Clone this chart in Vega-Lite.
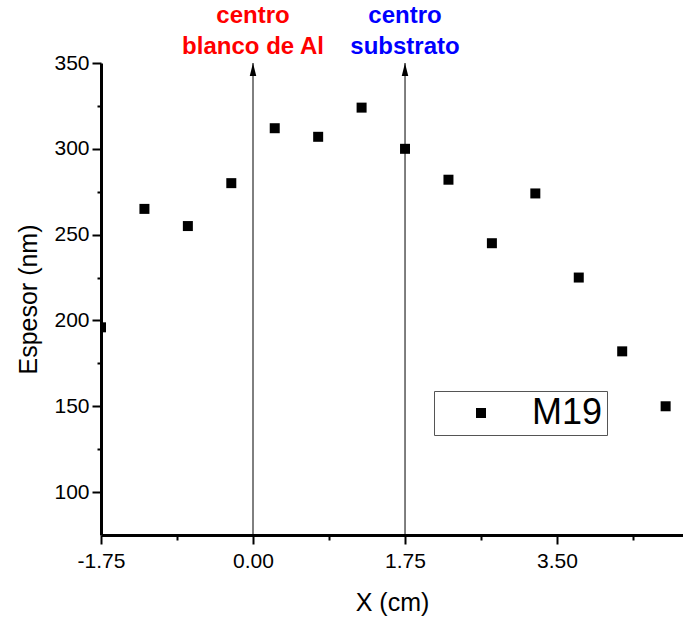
{
  "$schema": "https://vega.github.io/schema/vega-lite/v6.json",
  "width": 582,
  "height": 472,
  "autosize": {"type": "none"},
  "padding": {"left": 101, "top": 63, "right": 0, "bottom": 84},
  "background": "white",
  "config": {
    "view": {"stroke": null},
    "font": "Liberation Sans",
    "axis": {
      "grid": false,
      "domainColor": "black",
      "domainWidth": 3,
      "tickColor": "black",
      "tickWidth": 2,
      "labelColor": "black",
      "labelFont": "Liberation Sans",
      "labelFontSize": 21,
      "titleFont": "Liberation Sans",
      "titleFontSize": 25,
      "titleFontWeight": "normal",
      "titleColor": "black"
    }
  },
  "datasets": {
    "m19": [
      {"x": -1.75, "espesor": 196, "serie": "M19"},
      {"x": -1.25, "espesor": 265, "serie": "M19"},
      {"x": -0.75, "espesor": 255, "serie": "M19"},
      {"x": -0.25, "espesor": 280, "serie": "M19"},
      {"x": 0.25, "espesor": 312, "serie": "M19"},
      {"x": 0.75, "espesor": 307, "serie": "M19"},
      {"x": 1.25, "espesor": 324, "serie": "M19"},
      {"x": 1.75, "espesor": 300, "serie": "M19"},
      {"x": 2.25, "espesor": 282, "serie": "M19"},
      {"x": 2.75, "espesor": 245, "serie": "M19"},
      {"x": 3.25, "espesor": 274, "serie": "M19"},
      {"x": 3.75, "espesor": 225, "serie": "M19"},
      {"x": 4.25, "espesor": 182, "serie": "M19"},
      {"x": 4.75, "espesor": 150, "serie": "M19"}
    ],
    "marcas": [
      {"x": 0, "linea1": "centro", "linea2": "blanco de Al", "grupo": "blanco"},
      {"x": 1.75, "linea1": "centro", "linea2": "substrato", "grupo": "substrato"}
    ]
  },
  "encoding": {
    "x": {
      "field": "x",
      "type": "quantitative",
      "scale": {"domain": [-1.75, 4.95], "nice": false, "zero": false},
      "axis": {
        "title": "X (cm)",
        "values": [-1.75, -0.875, 0, 0.875, 1.75, 2.625, 3.5, 4.375],
        "labelExpr": "abs(datum.value/1.75 - round(datum.value/1.75)) < 0.01 ? replace(format(datum.value, '.2f'), '\u2212', '-') : ''",
        "tickSize": {"condition": {"test": "abs(datum.value/1.75 - round(datum.value/1.75)) < 0.01", "value": 9}, "value": 5},
        "labelPadding": 6,
        "titlePadding": 19,
        "labelFlush": false,
        "labelOverlap": false
      }
    }
  },
  "layer": [
    {
      "data": {"name": "m19"},
      "mark": {"type": "point", "filled": true, "color": "black", "opacity": 1, "size": 100, "clip": true},
      "encoding": {
        "y": {
          "field": "espesor",
          "type": "quantitative",
          "scale": {"domain": [75, 350], "nice": false, "zero": false},
          "axis": {
            "title": "Espesor (nm)",
            "values": [100, 125, 150, 175, 200, 225, 250, 275, 300, 325, 350],
            "labelExpr": "datum.value % 50 === 0 ? datum.label : ''",
            "tickSize": {"condition": {"test": "datum.value % 50 === 0", "value": 9}, "value": 4},
            "labelPadding": 3,
            "titlePadding": 12
          }
        },
        "shape": {
          "field": "serie",
          "type": "nominal",
          "scale": {"range": ["square"]},
          "legend": {
            "title": null,
            "orient": "none",
            "legendX": 333,
            "legendY": 328,
            "strokeColor": "#555555",
            "fillColor": "white",
            "padding": 4,
            "labelFontSize": 36,
            "labelFont": "Liberation Sans",
            "labelColor": "black",
            "symbolSize": 100,
            "symbolType": "square",
            "symbolFillColor": "black",
            "symbolStrokeColor": "black",
            "symbolOffset": 25,
            "labelOffset": 33
          }
        }
      }
    },
    {
      "data": {"name": "marcas"},
      "mark": {"type": "rule", "color": "black", "strokeWidth": 1},
      "encoding": {
        "y": {"datum": 75, "type": "quantitative"},
        "y2": {"datum": 350}
      }
    },
    {
      "data": {"name": "marcas"},
      "mark": {"type": "point", "shape": "M0,-1L-0.5,1L0.5,1Z", "size": 169, "filled": true, "color": "black", "opacity": 1, "yOffset": 6.5, "clip": false},
      "encoding": {
        "y": {"datum": 350, "type": "quantitative"}
      }
    },
    {
      "data": {"name": "marcas"},
      "mark": {"type": "text", "fontSize": 24, "fontWeight": "bold", "font": "Liberation Sans", "baseline": "alphabetic", "align": "center", "dy": -40},
      "encoding": {
        "y": {"datum": 350, "type": "quantitative"},
        "text": {"field": "linea1"},
        "color": {"field": "grupo", "type": "nominal", "scale": {"domain": ["blanco", "substrato"], "range": ["#ff0000", "#0000ff"]}, "legend": null}
      }
    },
    {
      "data": {"name": "marcas"},
      "mark": {"type": "text", "fontSize": 24, "fontWeight": "bold", "font": "Liberation Sans", "baseline": "alphabetic", "align": "center", "dy": -9},
      "encoding": {
        "y": {"datum": 350, "type": "quantitative"},
        "text": {"field": "linea2"},
        "color": {"field": "grupo", "type": "nominal", "legend": null}
      }
    }
  ]
}
